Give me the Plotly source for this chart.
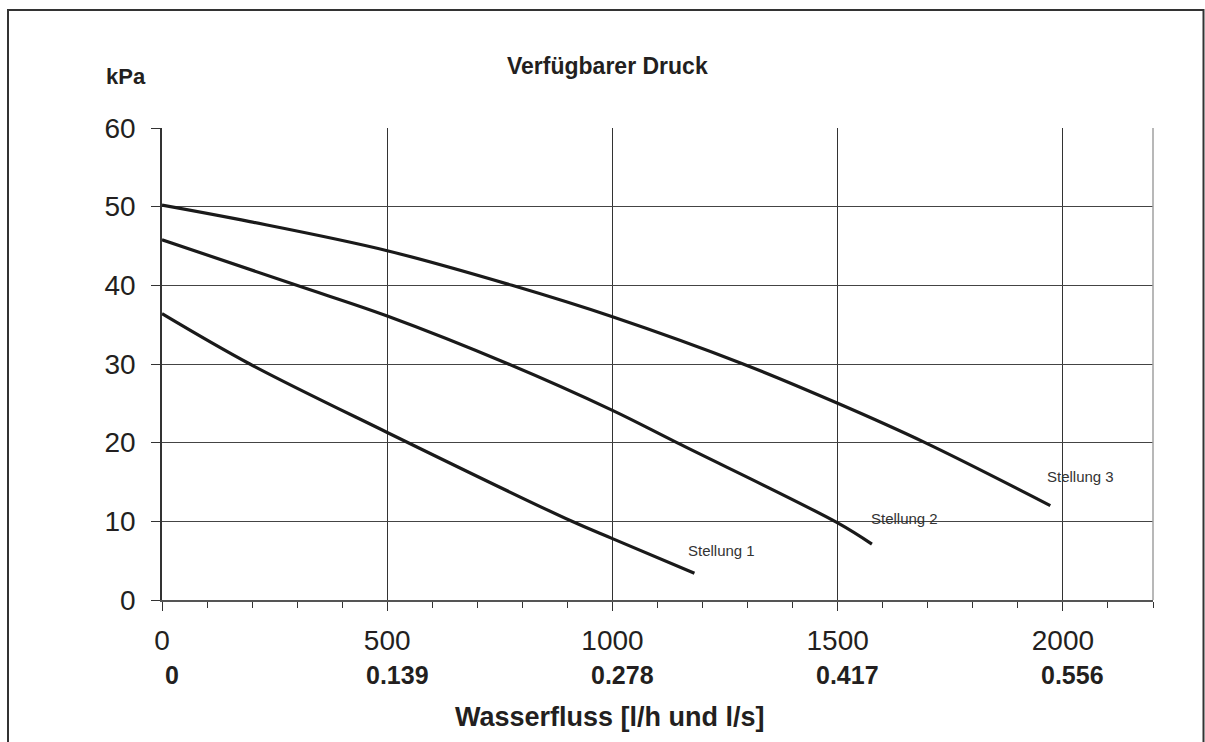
import plotly.graph_objects as go

# ---- data ----
flow_1 = [0, 195, 500, 910, 1000, 1182]
druck_1 = [36.4, 30.0, 21.3, 10.0, 7.8, 3.4]

flow_2 = [0, 299, 500, 769, 1000, 1143, 1500, 1576]
druck_2 = [45.8, 40.0, 36.1, 30.0, 24.1, 20.0, 9.8, 7.1]

flow_3 = [0, 195, 500, 777, 1000, 1290, 1500, 1694, 1972]
druck_3 = [50.2, 48.1, 44.4, 40.0, 36.0, 30.0, 25.0, 20.0, 12.0]

series_names = ["Stellung 1", "Stellung 2", "Stellung 3"]
label_pos_x = [1243, 1649, 2039]
label_pos_y = [6.3, 10.3, 15.7]

x_tickvals = [0, 500, 1000, 1500, 2000]
x_ticktext = ["0", "500", "1000", "1500", "2000"]
x_ls_labels = ["0", "0.139", "0.278", "0.417", "0.556"]
y_tickvals = [0, 10, 20, 30, 40, 50, 60]

W, H = 1205, 742
L, R, T, B = 162, 52, 128, 142
pw, ph = W - L - R, H - T - B

def px_x(p):
    return (p - L) / pw

def px_y(p):
    return (H - B - p) / ph

FONT = "Liberation Sans, Arial, sans-serif"
TXT = "#231f20"

fig = go.Figure()
for fx, dy, nm in zip([flow_1, flow_2, flow_3], [druck_1, druck_2, druck_3], series_names):
    fig.add_trace(go.Scatter(x=fx, y=dy, mode="lines", name=nm,
                             line=dict(color="#1a1a1a", width=3.2, shape="spline", smoothing=1.0),
                             showlegend=False, hoverinfo="skip"))

annotations = []
for nm, ax, ay in zip(series_names, label_pos_x, label_pos_y):
    annotations.append(dict(x=ax, y=ay, xref="x", yref="y", text=nm, showarrow=False,
                            font=dict(family=FONT, size=15, color="#333333"),
                            xanchor="center", yanchor="middle"))

for v, t in zip(x_tickvals, x_ls_labels):
    annotations.append(dict(x=v, y=px_y(675), xref="x", yref="paper", text="<b>%s</b>" % t,
                            showarrow=False, xshift=10,
                            font=dict(family=FONT, size=25, color=TXT),
                            xanchor="center", yanchor="middle"))

annotations.append(dict(x=px_x(125.5), y=px_y(77), xref="paper", yref="paper", text="<b>kPa</b>",
                        showarrow=False, font=dict(family=FONT, size=22, color=TXT),
                        xanchor="center", yanchor="middle"))
annotations.append(dict(x=px_x(607), y=px_y(66), xref="paper", yref="paper",
                        text="<b>Verfügbarer Druck</b>", showarrow=False,
                        font=dict(family=FONT, size=23, color=TXT),
                        xanchor="center", yanchor="middle"))
annotations.append(dict(x=px_x(610), y=px_y(717), xref="paper", yref="paper",
                        text="<b>Wasserfluss [l/h und l/s]</b>", showarrow=False,
                        font=dict(family=FONT, size=27, color=TXT),
                        xanchor="center", yanchor="middle"))

shapes = [
    # outer frame
    dict(type="rect", xref="paper", yref="paper", x0=px_x(8), x1=px_x(1203.5), y0=px_y(780), y1=px_y(10),
         line=dict(color="#333333", width=2), fillcolor="rgba(0,0,0,0)", layer="below"),
    # right edge of plot area
    dict(type="line", xref="paper", yref="paper", x0=1, x1=1, y0=0, y1=1,
         line=dict(color="#a0a0a0", width=1.5)),
]

fig.update_layout(
    width=W, height=H,
    margin=dict(l=L, r=R, t=T, b=B),
    paper_bgcolor="white", plot_bgcolor="white",
    annotations=annotations, shapes=shapes,
    font=dict(family=FONT, color=TXT),
    xaxis=dict(range=[0, 2200], tickvals=x_tickvals, ticktext=x_ticktext,
               showgrid=True, gridcolor="#333333", gridwidth=1,
               showline=True, linecolor="#555555", linewidth=1.5,
               ticks="outside", ticklen=9, tickcolor="#333333", tickwidth=1,
               minor=dict(dtick=100, ticks="outside", ticklen=6, tickcolor="#333333", showgrid=False),
               tickfont=dict(family=FONT, size=28, color=TXT),
               ticklabelstandoff=6,
               zeroline=False, fixedrange=True),
    yaxis=dict(range=[0, 60], tickvals=y_tickvals,
               showgrid=True, gridcolor="#444444", gridwidth=1,
               showline=True, linecolor="#333333", linewidth=1.5,
               ticks="outside", ticklen=9, tickcolor="#333333", tickwidth=1,
               tickfont=dict(family=FONT, size=28, color=TXT),
               ticklabelstandoff=10,
               zeroline=False, fixedrange=True),
)

fig.write_html("out.html")
